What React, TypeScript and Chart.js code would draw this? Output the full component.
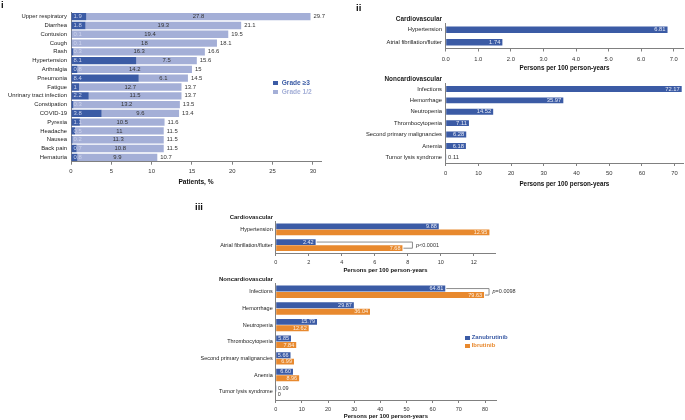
import React, { useRef, useEffect } from "react";
import { Chart, registerables } from "chart.js";

Chart.register(...registerables);

const FONT = '"Liberation Sans", Arial, Helvetica, sans-serif';
const BLUE = "#3b5ba5";
const LIGHT_BLUE = "#a4afd7";
const ORANGE = "#e8892e";
const AXIS = "#808080";
const INK = "#222";

// panel i - most common adverse events, % of patients
const aeCategories = [
  "Upper respiratory",
  "Diarrhea",
  "Contusion",
  "Cough",
  "Rash",
  "Hypertension",
  "Arthralgia",
  "Pneumonia",
  "Fatigue",
  "Unrinary tract infection",
  "Constipation",
  "COVID-19",
  "Pyrexia",
  "Headache",
  "Nausea",
  "Back pain",
  "Hematuria",
];
const aeGrade3 = [1.9, 1.8, 0.1, 0.1, 0.3, 8.1, 0.8, 8.4, 1, 2.2, 0.3, 3.8, 1.1, 0.5, 0.2, 0.7, 0.8];
const aeGrade12 = [27.8, 19.3, 19.4, 18, 16.3, 7.5, 14.2, 6.1, 12.7, 11.5, 13.2, 9.6, 10.5, 11, 11.3, 10.8, 9.9];
const aeTotals = [29.7, 21.1, 19.5, 18.1, 16.6, 15.6, 15, 14.5, 13.7, 13.7, 13.5, 13.4, 11.6, 11.5, 11.5, 11.5, 10.7];
const aeTicks = [0, 5, 10, 15, 20, 25, 30];

// panel ii - exposure-adjusted incidence, persons per 100 person-years
const cvCategories = ["Hypertension", "Atrial fibrillation/flutter"];
const cvRates = [6.81, 1.74];
const cvTicks = [0, 1, 2, 3, 4, 5, 6, 7];
const ncvCategories = [
  "Infections",
  "Hemorrhage",
  "Neutropenia",
  "Thrombocytopenia",
  "Second primary malignancies",
  "Anemia",
  "Tumor lysis syndrome",
];
const ncvRates = [72.17, 35.97, 14.52, 7.11, 6.28, 6.18, 0.11];
const ncvTicks = [0, 10, 20, 30, 40, 50, 60, 70];

// panel iii - zanubrutinib vs ibrutinib
const cvZanubrutinib = [9.88, 2.42];
const cvIbrutinib = [12.95, 7.68];
const cvCompareTicks = [0, 2, 4, 6, 8, 10, 12];
const ncvZanubrutinib = [64.81, 29.87, 15.79, 5.85, 5.66, 6.6, 0.09];
const ncvIbrutinib = [79.63, 36.04, 12.62, 7.84, 6.99, 8.96, 0];
const ncvCompareTicks = [0, 10, 20, 30, 40, 50, 60, 70, 80];
const cvPValue = { index: 1, text: "<0.0001" };
const ncvPValue = { index: 0, text: "=0.0098" };

const RATE_TITLE = "Persons per 100 person-years";
const AE_TITLE = "Patients, %";

type Box = { left: number; top: number; w: number; h: number; L: number; T: number; R: number; B: number };

const font = (size: number, weight = "normal", style = "normal") =>
  `${style} ${weight} ${size}px ${FONT}`;

const fmt2 = (v: number) => (v === 0 ? "0" : v.toFixed(2));

function xAxis(
  box: Box,
  o: { max: number; ticks: number[]; label: (v: number) => string; size: number; titleSize: number; pad: number; title: string; stacked?: boolean }
) {
  return {
    type: "linear",
    min: 0,
    max: o.max,
    stacked: !!o.stacked,
    afterBuildTicks: (s: any) => {
      s.ticks = o.ticks.map((v) => ({ value: v }));
    },
    afterFit: (s: any) => {
      s.height = box.top + box.h - box.B;
    },
    grid: { display: true, drawOnChartArea: false, drawTicks: true, tickLength: 3, color: AXIS },
    border: { display: true, color: AXIS, width: 1 },
    ticks: {
      font: { family: FONT, size: o.size },
      color: "#333",
      padding: o.pad,
      maxRotation: 0,
      callback: (v: any) => o.label(Number(v)),
    },
    title: {
      display: true,
      text: o.title,
      color: "#111",
      padding: 0,
      font: { family: FONT, size: o.titleSize, weight: "bold" },
    },
  };
}

function yAxis(box: Box, size: number, pad: number, stacked?: boolean) {
  return {
    type: "category",
    stacked: !!stacked,
    afterFit: (s: any) => {
      s.width = box.L - box.left;
    },
    grid: { display: false, drawTicks: false },
    border: { display: true, color: AXIS, width: 1 },
    ticks: { autoSkip: false, font: { family: FONT, size }, color: INK, padding: pad },
  };
}

function baseOptions(box: Box, scales: any) {
  return {
    responsive: false,
    animation: false,
    indexAxis: "y",
    events: [],
    layout: {
      padding: { left: 0, top: box.T - box.top, right: box.left + box.w - box.R, bottom: 0 },
    },
    plugins: { legend: { display: false }, tooltip: { enabled: false }, title: { display: false } },
    scales,
  };
}

// labels of the stacked grade bars: grade >=3 at the start, grade 1/2 in its segment, total after the bar
const stackedLabels = {
  id: "stackedLabels",
  afterDatasetsDraw(chart: any) {
    const ctx = chart.ctx;
    const dark = chart.getDatasetMeta(0).data;
    const light = chart.getDatasetMeta(1).data;
    ctx.save();
    ctx.font = font(5.9);
    ctx.textBaseline = "middle";
    dark.forEach((bar: any, i: number) => {
      const seg = light[i];
      ctx.textAlign = "left";
      ctx.fillStyle = "#ccd3ec";
      ctx.fillText(String(aeGrade3[i]), bar.base + 2, bar.y);
      ctx.textAlign = "center";
      ctx.fillStyle = "#333";
      ctx.fillText(String(aeGrade12[i]), (seg.base + seg.x) / 2, seg.y);
      ctx.textAlign = "left";
      ctx.fillText(String(aeTotals[i]), seg.x + 3, seg.y);
    });
    ctx.restore();
  },
};

const valueLabels = (size: number, colors: string[]) => ({
  id: "valueLabels",
  afterDatasetsDraw(chart: any) {
    const ctx = chart.ctx;
    ctx.save();
    ctx.font = font(size);
    ctx.textBaseline = "middle";
    ctx.textAlign = "left";
    chart.data.datasets.forEach((ds: any, di: number) => {
      chart.getDatasetMeta(di).data.forEach((bar: any, i: number) => {
        const text = fmt2(ds.data[i]);
        const tw = ctx.measureText(text).width;
        const len = bar.x - bar.base;
        if (len >= tw * 0.8) {
          ctx.fillStyle = colors[di];
          ctx.fillText(text, Math.max(bar.base + 1, bar.x - 2 - tw), bar.y);
        } else {
          ctx.fillStyle = "#333";
          ctx.fillText(text, bar.x + 2, bar.y);
        }
      });
    });
    ctx.restore();
  },
});

const pBracket = (p: { index: number; text: string }, gap: number, size: number) => ({
  id: "pBracket",
  afterDatasetsDraw(chart: any) {
    const ctx = chart.ctx;
    const a = chart.getDatasetMeta(0).data[p.index];
    const b = chart.getDatasetMeta(1).data[p.index];
    const right = Math.max(a.x, b.x) + gap;
    ctx.save();
    ctx.strokeStyle = "#8c8c8c";
    ctx.lineWidth = 1;
    ctx.beginPath();
    ctx.moveTo(a.x + 1, a.y);
    ctx.lineTo(right, a.y);
    ctx.lineTo(right, b.y);
    ctx.lineTo(b.x + 1, b.y);
    ctx.stroke();
    const y = (a.y + b.y) / 2;
    ctx.fillStyle = "#333";
    ctx.textBaseline = "middle";
    ctx.textAlign = "left";
    ctx.font = font(size, "normal", "italic");
    ctx.fillText("p", right + 3.5, y);
    const pw = ctx.measureText("p").width;
    ctx.font = font(size);
    ctx.fillText(p.text, right + 3.5 + pw, y);
    ctx.restore();
  },
});

const boxAE: Box = { left: 0, top: 0, w: 335, h: 186, L: 71, T: 12.3, R: 321, B: 161.7 };
const boxCv: Box = { left: 340, top: 0, w: 345, h: 72, L: 445.7, T: 23.5, R: 683.5, B: 48.5 };
const boxNcv: Box = { left: 340, top: 75, w: 345, h: 113, L: 445.7, T: 83.3, R: 683.1, B: 163 };
const boxCvCmp: Box = { left: 180, top: 200, w: 330, h: 74, L: 275.7, T: 221.5, R: 495.2, B: 253 };
const boxNcvCmp: Box = { left: 180, top: 272, w: 345, h: 148, L: 275.7, T: 283.5, R: 496, B: 400 };

function aeConfig() {
  const bar = { categoryPercentage: 1, barPercentage: 0.83, borderWidth: 0 };
  return {
    type: "bar",
    data: {
      labels: aeCategories,
      datasets: [
        { label: "Grade ≥3", data: aeGrade3, backgroundColor: BLUE, ...bar },
        { label: "Grade 1/2", data: aeGrade12, backgroundColor: LIGHT_BLUE, ...bar },
      ],
    },
    options: baseOptions(boxAE, {
      x: xAxis(boxAE, {
        max: 31,
        ticks: aeTicks,
        label: (v) => String(v),
        size: 5.9,
        titleSize: 6.6,
        pad: 3.5,
        title: AE_TITLE,
        stacked: true,
      }),
      y: yAxis(boxAE, 5.9, 4, true),
    }),
    plugins: [stackedLabels],
  };
}

function singleConfig(box: Box, labels: string[], values: number[], max: number, ticks: number[], label: (v: number) => string) {
  return {
    type: "bar",
    data: {
      labels,
      datasets: [{ data: values, backgroundColor: BLUE, categoryPercentage: 1, barPercentage: 0.52, borderWidth: 0 }],
    },
    options: baseOptions(box, {
      x: xAxis(box, { max, ticks, label, size: 5.8, titleSize: 6.3, pad: 4, title: RATE_TITLE }),
      y: yAxis(box, 5.8, 3.7),
    }),
    plugins: [valueLabels(5.8, ["#e4e8f5"])],
  };
}

function compareConfig(
  box: Box,
  labels: string[],
  zanu: number[],
  ibru: number[],
  max: number,
  ticks: number[],
  p: { index: number; text: string },
  gap: number
) {
  const bar = { categoryPercentage: 0.78, barPercentage: 0.92, borderWidth: 0 };
  return {
    type: "bar",
    data: {
      labels,
      datasets: [
        { label: "Zanubrutinib", data: zanu, backgroundColor: BLUE, ...bar },
        { label: "Ibrutinib", data: ibru, backgroundColor: ORANGE, ...bar },
      ],
    },
    options: baseOptions(box, {
      x: xAxis(box, { max, ticks, label: (v) => String(v), size: 5.5, titleSize: 5.9, pad: 3, title: RATE_TITLE }),
      y: yAxis(box, 5.5, 3),
    }),
    plugins: [valueLabels(5.5, ["#e4e8f5", "#fdeedd"]), pBracket(p, gap, 5.5)],
  };
}

const ChartCanvas: React.FC<{ box: Box; build: () => any }> = ({ box, build }) => {
  const ref = useRef<HTMLCanvasElement | null>(null);
  useEffect(() => {
    if (!ref.current) return;
    const chart = new Chart(ref.current, build());
    return () => {
      chart.destroy();
    };
  }, []);
  return (
    <canvas
      ref={ref}
      width={box.w}
      height={box.h}
      style={{ position: "absolute", left: box.left, top: box.top, width: box.w, height: box.h }}
    />
  );
};

const Txt: React.FC<{ x: number; y: number; size: number; bold?: boolean; color?: string; right?: boolean; children: React.ReactNode }> = ({
  x,
  y,
  size,
  bold,
  color = INK,
  right,
  children,
}) => (
  <div
    style={{
      position: "absolute",
      left: right ? undefined : x,
      right: right ? 685 - x : undefined,
      top: y,
      transform: "translateY(-50%)",
      fontSize: size,
      fontWeight: bold ? 700 : 400,
      color,
      lineHeight: 1,
      whiteSpace: "nowrap",
    }}
  >
    {children}
  </div>
);

const Swatch: React.FC<{ x: number; y: number; s: number; color: string }> = ({ x, y, s, color }) => (
  <div style={{ position: "absolute", left: x, top: y, width: s, height: s, background: color }} />
);

export default function App() {
  return (
    <div
      style={{
        position: "fixed",
        left: 0,
        top: 0,
        width: 685,
        height: 420,
        background: "#fff",
        overflow: "hidden",
        fontFamily: FONT,
      }}
    >
      <ChartCanvas box={boxAE} build={aeConfig} />
      <ChartCanvas box={boxCv} build={() => singleConfig(boxCv, cvCategories, cvRates, 7.3, cvTicks, (v) => v.toFixed(1))} />
      <ChartCanvas box={boxNcv} build={() => singleConfig(boxNcv, ncvCategories, ncvRates, 72.6, ncvTicks, (v) => String(v))} />
      <ChartCanvas
        box={boxCvCmp}
        build={() => compareConfig(boxCvCmp, cvCategories, cvZanubrutinib, cvIbrutinib, 13.3, cvCompareTicks, cvPValue, 10)}
      />
      <ChartCanvas
        box={boxNcvCmp}
        build={() => compareConfig(boxNcvCmp, ncvCategories, ncvZanubrutinib, ncvIbrutinib, 84.2, ncvCompareTicks, ncvPValue, 5)}
      />

      <Txt x={1} y={5} size={9.5} bold color="#111">i</Txt>
      <Txt x={356} y={8} size={9.5} bold color="#111">ii</Txt>
      <Txt x={195} y={206.5} size={9.5} bold color="#111">iii</Txt>

      <Txt x={442} y={19.3} size={6.4} bold right>Cardiovascular</Txt>
      <Txt x={442} y={79} size={6.4} bold right>Noncardiovascular</Txt>
      <Txt x={273} y={217} size={6} bold right>Cardiovascular</Txt>
      <Txt x={273} y={279.3} size={6} bold right>Noncardiovascular</Txt>

      <Swatch x={273.3} y={80.7} s={4.8} color={BLUE} />
      <Txt x={281.7} y={83} size={6.6} bold color={BLUE}>Grade ≥3</Txt>
      <Swatch x={273.3} y={89.6} s={4.8} color={LIGHT_BLUE} />
      <Txt x={281.7} y={92} size={6.6} bold color={LIGHT_BLUE}>Grade 1/2</Txt>

      <Swatch x={465} y={335.7} s={4.5} color={BLUE} />
      <Txt x={471.7} y={338} size={5.9} bold color={BLUE}>Zanubrutinib</Txt>
      <Swatch x={465} y={343.5} s={4.5} color={ORANGE} />
      <Txt x={471.7} y={346} size={5.9} bold color={ORANGE}>Ibrutinib</Txt>
    </div>
  );
}
